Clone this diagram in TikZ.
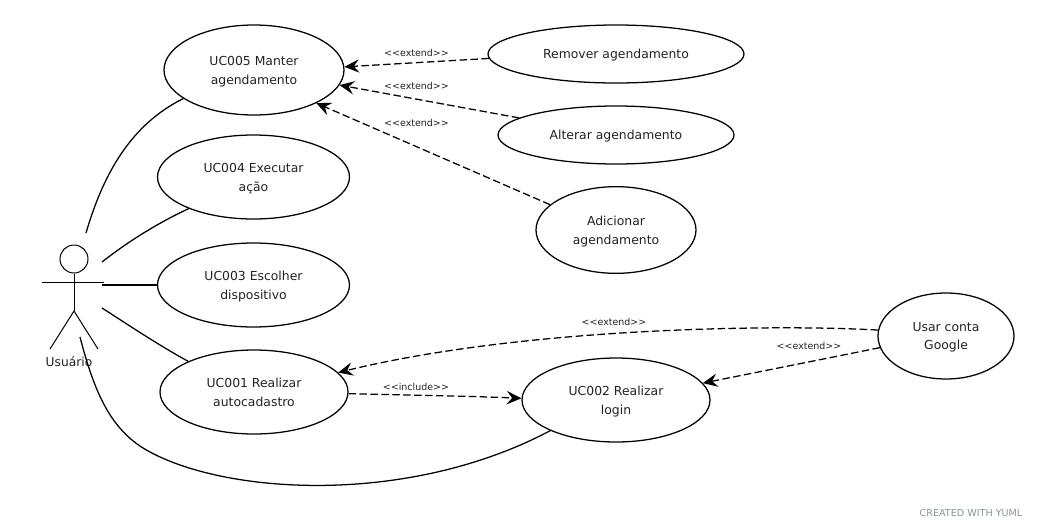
\documentclass[tikz,border=0pt]{standalone}
\usepackage{fontspec}
\setmainfont{DejaVu Sans}
\usetikzlibrary{arrows.meta,shapes.geometric}
\definecolor{inkgray}{HTML}{222222}
\definecolor{stampgray}{HTML}{8A92A0}
\tikzset{
	usecase/.style={draw, ellipse, line width=0.95pt, inner sep=0pt, align=center, text=inkgray, text depth=0pt, font=\fontsize{9.3}{14.2}\selectfont},
	assoc/.style={line width=0.95pt},
	depend/.style={line width=0.95pt, dash pattern=on 5.6pt off 2.6pt, -{Stealth[length=11pt,width=10pt,inset=4pt]}},
	stereo/.style={inner sep=0pt, text=inkgray, font=\fontsize{7.1}{9}\selectfont},
}
\begin{document}
\begin{tikzpicture}[x=0.75pt,y=-0.75pt]
	%%%%% START %%%%%
	\useasboundingbox (0,0) rectangle (1040,529);

	\node[usecase, minimum width=135pt, minimum height=67.5pt] (uc005) at (254,70) {UC005 Manter\\agendamento};
	\node[usecase, minimum width=144pt, minimum height=63pt] (uc004) at (253.5,177) {UC004 Executar\\ação};
	\node[usecase, minimum width=144pt, minimum height=63pt] (uc003) at (253.5,285) {UC003 Escolher\\dispositivo};
	\node[usecase, minimum width=141pt, minimum height=63pt] (uc001) at (254,392) {UC001 Realizar\\autocadastro};
	\node[usecase, minimum width=141pt, minimum height=63pt] (uc002) at (616,400) {UC002 Realizar\\login};

	\node[usecase, minimum width=192pt, minimum height=43.5pt] (remover) at (616,54) {Remover agendamento};
	\node[usecase, minimum width=177pt, minimum height=43.5pt] (alterar) at (616,135) {Alterar agendamento};
	\node[usecase, minimum width=120pt, minimum height=65pt] (adicionar) at (616,230) {Adicionar\\agendamento};
	\node[usecase, minimum width=102pt, minimum height=64.5pt] (usar) at (946,336) {Usar conta\\Google};

	% actor
	\node[draw, circle, line width=0.75pt, minimum size=21pt, inner sep=0pt] (cabeca) at (74,259) {};
	\coordinate (quadril) at (74,311);
	\draw[line width=0.75pt] (cabeca) -- (quadril);
	\draw[line width=0.75pt] (42,282) -- (104,282);
	\draw[line width=0.75pt] (50,349) -- (quadril) -- (98,349);
	\node[inner sep=0pt, text=inkgray, font=\fontsize{9.2}{12}\selectfont] (usuario) at (69,362) {Usuário};

	% free ends at the actor
	\coordinate (a5) at (86,233);
	\coordinate (a4) at (102,262);
	\coordinate (a3) at (102,285);
	\coordinate (a1) at (102,308);
	\coordinate (a2) at (80,337);

	\draw[assoc] (a5) .. controls (103,175) and (130,125) .. (uc005.202);
	\draw[assoc] (a4) .. controls (130,240) and (160,222) .. (uc004.206);
	\draw[assoc] (a3) -- (uc003);
	\draw[assoc] (a1) .. controls (130,326) and (160,346) .. (uc001.155);
	\draw[assoc] (a2) .. controls (95,395) and (112,432) .. (150,452) .. controls (230,495) and (410,505) .. (uc002.205);

	\draw[depend] (remover.182) -- (uc005.2);
	\draw[depend] (alterar.170) -- (uc005.350);
	\draw[depend] (adicionar.159) -- (uc005.332);
	\draw[depend] (uc001.359) .. controls (400,395) and (470,396) .. (uc002.179);
	\draw[depend] (usar.175) .. controls (770,324) and (520,328) .. (uc001.13);
	\draw[depend] (usar.190) -- (uc002.11);

	\node[stereo] (lbl1) at (416.5,53) {<{}<extend>{}>};
	\node[stereo] (lbl2) at (416.5,86) {<{}<extend>{}>};
	\node[stereo] (lbl3) at (416.5,123) {<{}<extend>{}>};
	\node[stereo] (lbl4) at (614,322) {<{}<extend>{}>};
	\node[stereo] (lbl5) at (809,346) {<{}<extend>{}>};
	\node[stereo] (lbl6) at (416,387) {<{}<include>{}>};

	\node[inner sep=0pt, text=stampgray, font=\fontsize{7.2}{8}\selectfont] (stamp) at (971,513) {CREATED WITH YUML};
	%%%%% END %%%%%
\end{tikzpicture}
\end{document}
